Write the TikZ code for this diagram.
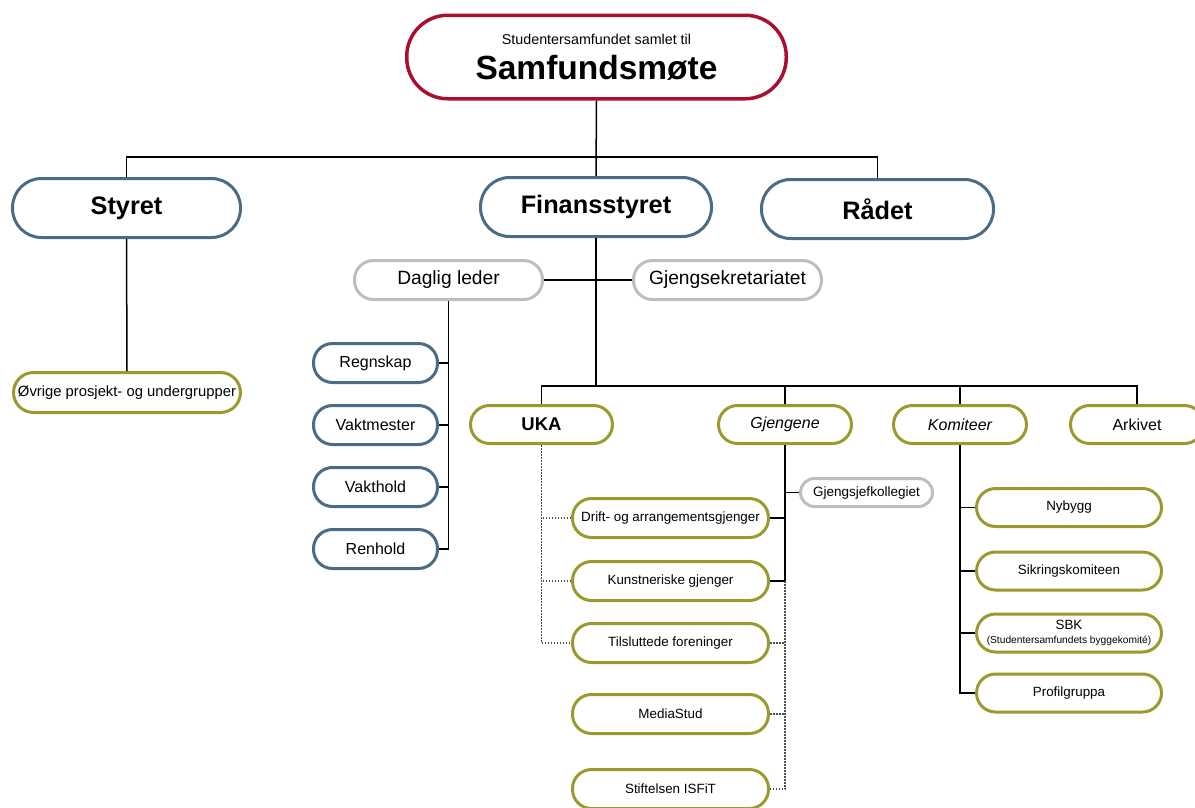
\documentclass[tikz,border=0pt]{standalone}
\usepackage{fontspec}
\setmainfont{Liberation Sans}
\usepackage{xcolor}
\definecolor{samfrod}{RGB}{168,16,46}
\definecolor{styreblaa}{RGB}{76,108,132}
\definecolor{lysgraa}{RGB}{190,190,190}
\definecolor{oliven}{RGB}{154,154,46}
\tikzset{
  boks/.style={draw, fill=white, line width=3pt, inner sep=0pt, align=center},
  hovedboks/.style={boks, draw=samfrod, line width=3.5pt, minimum width=379.5pt, minimum height=83.5pt, rounded corners=41pt, font=\fontsize{33.5}{35}\selectfont\bfseries},
  styreboks/.style={boks, draw=styreblaa, minimum width=228pt, minimum height=59pt, rounded corners=29pt, font=\fontsize{25.3}{28}\selectfont\bfseries},
  lederboks/.style={boks, draw=lysgraa, minimum width=188pt, minimum height=39pt, rounded corners=19pt, font=\fontsize{19.2}{22}\selectfont},
  driftboks/.style={boks, draw=styreblaa, minimum width=124pt, minimum height=39pt, rounded corners=19pt, font=\fontsize{16}{18}\selectfont},
  enhetboks/.style={boks, draw=oliven, minimum width=133pt, minimum height=38pt, rounded corners=19pt, font=\fontsize{16}{18}\selectfont},
  gjengboks/.style={boks, draw=oliven, minimum width=196pt, minimum height=39pt, rounded corners=19pt, font=\fontsize{13.4}{15}\selectfont},
  komboks/.style={boks, draw=oliven, minimum width=185pt, minimum height=38pt, rounded corners=19pt, font=\fontsize{13.4}{15}\selectfont},
  linje/.style={line width=1.5pt, black},
  prikket/.style={line width=1.2pt, black!70, dash pattern=on 1.5pt off 1.5pt}
}

\begin{document}
\begin{tikzpicture}[x=1pt,y=1pt,yscale=-1,xscale=1]
\useasboundingbox (0,0) rectangle (1195,807);

%Bus points
\coordinate (bus1) at (596,157);
\coordinate (bus2) at (596,386);

%Top
\node [hovedboks] (samf) at (596.5,57) {{\fontsize{14.3}{16}\selectfont\mdseries Studentersamfundet samlet til}\\Samfundsmøte};

%Second level
\node [styreboks] (styret) at (126.5,208) {Styret};
\node [styreboks, minimum width=231pt] (fin) at (596,207) {Finansstyret};
\node [styreboks, minimum width=232pt] (raadet) at (877.5,209) {Rådet};

\node [boks, draw=oliven, minimum width=227pt, minimum height=40pt, rounded corners=20pt, font=\fontsize{14.8}{17}\selectfont] (ovrige) at (127,392.5) {Øvrige prosjekt- og undergrupper};

%Daglig leder and his people
\node [lederboks] (daglig) at (448.5,280) {Daglig leder};
\node [lederboks] (gjsek) at (727.5,280) {Gjengsekretariatet};
\node [driftboks] (regnskap) at (375.5,363) {Regnskap};
\node [driftboks] (vaktm) at (375.5,425) {Vaktmester};
\node [driftboks] (vakth) at (375.5,487) {Vakthold};
\node [driftboks] (renhold) at (375.5,549) {Renhold};

%Units under Finansstyret
\node [enhetboks, minimum width=142pt, font=\fontsize{18.5}{20}\selectfont\bfseries] (uka) at (541.5,424.5) {UKA};
\node [enhetboks, font=\fontsize{16}{18}\selectfont\itshape] (gjengene) at (785,424.5) {Gjengene};
\node [enhetboks, font=\fontsize{16}{18}\selectfont\itshape] (komiteer) at (960,424.5) {Komiteer};
\node [enhetboks] (arkivet) at (1137,424.5) {Arkivet};

\node [boks, draw=lysgraa, minimum width=132pt, minimum height=28pt, rounded corners=14pt, font=\fontsize{13.5}{15}\selectfont] (gjsjef) at (866.5,492.5) {Gjengsjefkollegiet};
\node [gjengboks] (drift) at (670.5,518) {Drift- og arrangementsgjenger};
\node [gjengboks] (kunst) at (670.5,581) {Kunstneriske gjenger};
\node [gjengboks] (tilsl) at (670.5,643) {Tilsluttede foreninger};
\node [gjengboks] (media) at (670.5,714) {MediaStud};
\node [gjengboks] (isfit) at (670.5,789) {Stiftelsen ISFiT};

\node [komboks] (nybygg) at (1069,507.5) {Nybygg};
\node [komboks] (sikring) at (1069,571) {Sikringskomiteen};
\node [komboks] (sbk) at (1069,633) {SBK\\[-1pt]{\fontsize{10.2}{12}\selectfont (Studentersamfundets byggekomité)}};
\node [komboks] (profil) at (1069,693) {Profilgruppa};

%Straight Lines
\draw [linje] (samf.south) -- (fin.north);
\draw [linje] (styret.north) |- (bus1) -| (raadet.north);
\draw [linje] (styret.south) -- (ovrige.north);
\draw [linje] (daglig.east) -- (gjsek.west);
\draw [linje] (fin.south) -- (bus2);
\draw [linje] (daglig.south) |- (renhold.east);
\draw [linje] (regnskap.east) -- (regnskap.east -| daglig.south);
\draw [linje] (vaktm.east) -- (vaktm.east -| daglig.south);
\draw [linje] (vakth.east) -- (vakth.east -| daglig.south);
\draw [linje] (uka.north) |- (bus2) -| (arkivet.north);
\draw [linje] (gjengene.north) -- (gjengene.north |- bus2);
\draw [linje] (komiteer.north) -- (komiteer.north |- bus2);
\draw [linje] (gjengene.south) |- (kunst.east);
\draw [linje] (gjsjef.west) -- (gjsjef.west -| gjengene.south);
\draw [linje] (drift.east) -- (drift.east -| gjengene.south);
\draw [linje] (komiteer.south) |- (profil.west);
\draw [linje] (nybygg.west) -- (nybygg.west -| komiteer.south);
\draw [linje] (sikring.west) -- (sikring.west -| komiteer.south);
\draw [linje] (sbk.west) -- (sbk.west -| komiteer.south);

%Dotted Lines
\draw [prikket] (uka.south) |- (tilsl.west);
\draw [prikket] (drift.west) -- (drift.west -| uka.south);
\draw [prikket] (kunst.west) -- (kunst.west -| uka.south);
\draw [prikket] (kunst.east -| gjengene.south) |- (isfit.east);
\draw [prikket] (tilsl.east) -- (tilsl.east -| gjengene.south);
\draw [prikket] (media.east) -- (media.east -| gjengene.south);

\end{tikzpicture}
\end{document}
